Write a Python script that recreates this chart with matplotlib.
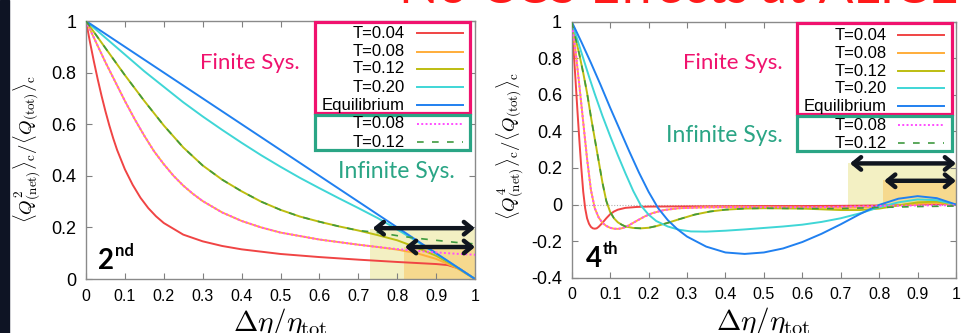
import matplotlib
matplotlib.use("Agg")
import matplotlib.pyplot as plt
from matplotlib.patches import Rectangle
from matplotlib.ticker import FormatStrFormatter

plt.rcParams['font.family'] = ['Liberation Sans', 'DejaVu Sans']
plt.rcParams['mathtext.fontset'] = 'cm'

# ---------------- data: 2nd order (left panel) ----------------
l_eq_x = [0, 1.0]
l_eq_y = [1, 0]

l_t04_x = [0, 0.01, 0.02, 0.03, 0.04, 0.05, 0.06, 0.07, 0.08, 0.1, 0.12, 0.14, 0.16, 0.18,
           0.2, 0.25, 0.3, 0.35, 0.4, 0.5, 0.6, 0.7, 0.8, 0.85, 0.9, 0.93, 0.96, 0.98, 1.0]
l_t04_y = [1, 0.92, 0.845, 0.775, 0.71, 0.65, 0.595, 0.545, 0.5, 0.425, 0.365, 0.315, 0.275,
           0.243, 0.217, 0.172, 0.146, 0.128, 0.115, 0.097, 0.085, 0.075, 0.066, 0.062, 0.058,
           0.054, 0.04, 0.02, 0]

l_t08_x = [0, 0.025, 0.05, 0.075, 0.1, 0.125, 0.15, 0.175, 0.2, 0.225, 0.25, 0.275, 0.3,
           0.35, 0.4, 0.45, 0.5, 0.6, 0.7, 0.75, 0.8, 0.85, 0.9, 0.95, 1.0]
l_t08_y = [1, 0.92, 0.84, 0.765, 0.69, 0.62, 0.555, 0.495, 0.445, 0.4, 0.362, 0.33, 0.302,
           0.258, 0.225, 0.2, 0.18, 0.153, 0.133, 0.124, 0.114, 0.1, 0.078, 0.045, 0]

l_t12_x = [0, 0.05, 0.1, 0.15, 0.2, 0.25, 0.3, 0.35, 0.4, 0.45, 0.5, 0.55, 0.6, 0.65, 0.7,
           0.75, 0.8, 0.85, 0.9, 0.95, 1.0]
l_t12_y = [1, 0.895, 0.79, 0.69, 0.595, 0.51, 0.44, 0.385, 0.34, 0.3, 0.268, 0.242, 0.222, 0.204,
           0.188, 0.17, 0.15, 0.122, 0.09, 0.048, 0]

l_t20_x = [0, 0.05, 0.1, 0.15, 0.2, 0.25, 0.3, 0.35, 0.4, 0.45, 0.5, 0.55, 0.6, 0.65, 0.7,
           0.75, 0.8, 0.85, 0.9, 0.95, 1.0]
l_t20_y = [1, 0.935, 0.87, 0.805, 0.745, 0.685, 0.63, 0.578, 0.528, 0.48, 0.435, 0.392, 0.352,
           0.313, 0.275, 0.236, 0.192, 0.146, 0.098, 0.05, 0]

# infinite system: same as finite up to 0.7, then stays flat
l_inf08_x = l_t08_x[:19] + [0.75, 0.8, 0.85, 0.9, 0.95, 1.0]
l_inf08_y = l_t08_y[:19] + [0.124, 0.116, 0.109, 0.103, 0.098, 0.094]
l_inf12_x = l_t12_x[:15] + [0.75, 0.8, 0.85, 0.9, 0.95, 1.0]
l_inf12_y = l_t12_y[:15] + [0.18, 0.168, 0.158, 0.15, 0.142, 0.136]

# ---------------- data: 4th order (right panel) ----------------
r_t04_x = [0, 0.005, 0.01, 0.015, 0.02, 0.025, 0.03, 0.035, 0.04, 0.045, 0.05, 0.055, 0.06,
           0.065, 0.07, 0.08, 0.09, 0.1, 0.11, 0.12, 0.14, 0.17, 0.2, 0.3, 0.4, 0.5, 0.6, 0.7,
           0.8, 0.85, 0.9, 0.95, 1.0]
r_t04_y = [1, 0.84, 0.68, 0.51, 0.35, 0.2, 0.07, -0.02, -0.075, -0.105, -0.122, -0.13, -0.132,
           -0.13, -0.122, -0.1, -0.075, -0.053, -0.038, -0.028, -0.018, -0.013, -0.011, -0.01,
           -0.009, -0.008, -0.008, -0.007, -0.005, -0.003, 0.0, 0.003, 0]

r_t08_x = [0, 0.01, 0.02, 0.03, 0.04, 0.05, 0.06, 0.07, 0.08, 0.09, 0.1, 0.11, 0.12, 0.13,
           0.14, 0.15, 0.17, 0.19, 0.21, 0.24, 0.28, 0.35, 0.45, 0.55, 0.65, 0.7, 0.75, 0.8,
           0.85, 0.9, 0.95, 1.0]
r_t08_y = [1, 0.84, 0.65, 0.45, 0.25, 0.08, -0.02, -0.07, -0.1, -0.117, -0.127, -0.132, -0.133,
           -0.13, -0.123, -0.112, -0.088, -0.065, -0.047, -0.03, -0.02, -0.015, -0.014, -0.015,
           -0.017, -0.018, -0.017, -0.012, -0.004, 0.004, 0.008, 0]

r_t12_x = [0, 0.01, 0.02, 0.03, 0.04, 0.05, 0.06, 0.07, 0.08, 0.09, 0.1, 0.11, 0.12, 0.13,
           0.14, 0.16, 0.18, 0.2, 0.22, 0.25, 0.28, 0.32, 0.36, 0.4, 0.45, 0.5, 0.6, 0.7, 0.75,
           0.8, 0.85, 0.9, 0.95, 1.0]
r_t12_y = [1, 0.91, 0.82, 0.72, 0.61, 0.48, 0.36, 0.24, 0.12, 0.02, -0.04, -0.075, -0.097,
           -0.11, -0.12, -0.128, -0.13, -0.127, -0.118, -0.1, -0.08, -0.055, -0.038, -0.028,
           -0.022, -0.02, -0.022, -0.03, -0.03, -0.022, -0.005, 0.012, 0.016, 0]

r_t20_x = [0, 0.015, 0.03, 0.045, 0.06, 0.08, 0.1, 0.12, 0.14, 0.16, 0.18, 0.2, 0.22, 0.25,
           0.28, 0.31, 0.35, 0.4, 0.45, 0.5, 0.55, 0.6, 0.65, 0.7, 0.75, 0.8, 0.85, 0.9, 0.95, 1.0]
r_t20_y = [1, 0.9, 0.8, 0.7, 0.605, 0.485, 0.375, 0.27, 0.17, 0.075, -0.005, -0.055, -0.09,
           -0.12, -0.138, -0.147, -0.148, -0.143, -0.136, -0.128, -0.12, -0.11, -0.095, -0.075,
           -0.048, -0.015, 0.012, 0.028, 0.024, 0]

r_eq_x = [0, 0.025, 0.05, 0.075, 0.1, 0.125, 0.15, 0.175, 0.2, 0.225, 0.25, 0.275, 0.3, 0.35,
          0.4, 0.45, 0.5, 0.55, 0.6, 0.65, 0.7, 0.75, 0.8, 0.85, 0.9, 0.95, 1.0]
r_eq_y = [1, 0.89, 0.775, 0.655, 0.53, 0.41, 0.29, 0.175, 0.07, -0.02, -0.085, -0.135, -0.175,
          -0.23, -0.262, -0.27, -0.262, -0.24, -0.205, -0.16, -0.108, -0.052, -0.002, 0.032,
          0.046, 0.035, 0]

r_inf08_x = r_t08_x[:24] + [0.65, 0.7, 0.8, 0.9, 1.0]
r_inf08_y = r_t08_y[:24] + [-0.014, -0.012, -0.008, -0.005, -0.004]
r_inf12_x = r_t12_x[:27] + [0.7, 0.8, 0.9, 1.0]
r_inf12_y = r_t12_y[:27] + [-0.022, -0.016, -0.011, -0.008]

finite_labels = ["T=0.04", "T=0.08", "T=0.12", "T=0.20", "Equilibrium"]
infinite_labels = ["T=0.08", "T=0.12"]

# ---------------- styles ----------------
finite_styles = [
    dict(color="#f04444", lw=1.4),
    dict(color="#ffad3a", lw=1.4),
    dict(color="#bdbd10", lw=1.4),
    dict(color="#3fd6d6", lw=1.4),
    dict(color="#2080f0", lw=1.4),
]
infinite_styles = [
    dict(color="#ff4dff", lw=1.4, ls=(0, (1, 1.2))),
    dict(color="#3f9a3f", lw=1.2, ls=(0, (4, 5))),
]
PINK = "#f0126e"
TEAL = "#2aa585"
ARROW = "#10151f"

fig = plt.figure(figsize=(9.67, 3.33), dpi=100)
fig.patches.append(Rectangle((0, 0), 9 / 967, 1, transform=fig.transFigure,
                             color="#0e1424", zorder=0))
# slide title, only its lower part shows above the plots
fig.text(0.413, 0.99, "No CCS Effects at ALICE ?", color="#ff1a1a", fontsize=37,
         family="Lato", va="baseline", ha="left")

ax1 = fig.add_axes([86 / 967, 54 / 333, 389 / 967, 258 / 333])
ax2 = fig.add_axes([571.7 / 967, 55.3 / 333, 384.3 / 967, 256 / 333])


def style_axes(ax, ylo, yhi):
    ax.set_xlim(0, 1)
    ax.set_ylim(ylo, yhi)
    ax.set_xticks([i / 10 for i in range(11)])
    ax.set_yticks([ylo + 0.2 * i for i in range(int(round((yhi - ylo) / 0.2)) + 1)])
    ax.xaxis.set_major_formatter(FormatStrFormatter('%g'))
    ax.yaxis.set_major_formatter(FormatStrFormatter('%g'))
    ax.tick_params(direction="in", top=True, right=True, length=4, width=0.8,
                   color="#808080")
    ax.tick_params(axis="x", labelsize=11.5, pad=7)
    ax.tick_params(axis="y", labelsize=13, pad=7)
    for s in ax.spines.values():
        s.set_color("#8a8a8a")
        s.set_linewidth(1.0)


def draw_key(ax, box1, box2, rows_y, text_x, line_x):
    ax.add_patch(Rectangle((box1[0], box1[1]), box1[2], box1[3], transform=ax.transAxes,
                           facecolor="white", edgecolor=PINK, lw=2.3, clip_on=False, zorder=5))
    ax.add_patch(Rectangle((box2[0], box2[1]), box2[2], box2[3], transform=ax.transAxes,
                           facecolor="white", edgecolor=TEAL, lw=2.3, clip_on=False, zorder=5))
    labels = finite_labels + infinite_labels
    styles = finite_styles + infinite_styles
    for lab, st, fy in zip(labels, styles, rows_y):
        ax.text(text_x, fy, lab, transform=ax.transAxes, ha="right", va="center",
                fontsize=12, zorder=6)
        ax.plot(line_x, [fy, fy], transform=ax.transAxes, clip_on=False, zorder=6, **st)


def arrow(ax, x0, x1, y):
    ax.annotate("", xy=(x1, y), xytext=(x0, y),
                arrowprops=dict(arrowstyle="<->,head_length=0.55,head_width=0.45",
                                lw=3.2, color=ARROW, shrinkA=0, shrinkB=0), zorder=7)


# ---------------- left panel ----------------
ax = ax1
style_axes(ax, 0, 1)
ax.add_patch(Rectangle((0.73, 0), 0.27, 0.195, facecolor="#f3f0c3", edgecolor="none", zorder=0.5))
ax.add_patch(Rectangle((0.817, 0), 0.183, 0.124, facecolor="#f6d98e", edgecolor="none", zorder=0.6))
left_finite = [(l_t04_x, l_t04_y), (l_t08_x, l_t08_y), (l_t12_x, l_t12_y),
               (l_t20_x, l_t20_y), (l_eq_x, l_eq_y)]
for (xs, ys), st in zip(left_finite, finite_styles):
    ax.plot(xs, ys, zorder=2, **st)
for (xs, ys), st in zip([(l_inf08_x, l_inf08_y), (l_inf12_x, l_inf12_y)], infinite_styles):
    ax.plot(xs, ys, zorder=3, **st)
arrow(ax, 0.737, 1.0, 0.197)
arrow(ax, 0.82, 1.0, 0.124)
draw_key(ax, (0.589, 0.643, 0.398, 0.353), (0.589, 0.5, 0.398, 0.136),
         [0.953, 0.880, 0.814, 0.744, 0.674, 0.601, 0.531], 0.82, [0.851, 0.969])
ax.text(0.42, 0.837, "Finite Sys.", color=PINK, fontsize=16, family="Lato",
        ha="center", va="center")
ax.text(0.797, 0.415, "Infinite Sys.", color=TEAL, fontsize=16.5, family="Lato",
        ha="center", va="center")
ax.text(0.031, 0.04, "2", fontsize=20, fontweight="bold", family="Lato", ha="left",
        va="baseline")
ax.annotate("nd", xy=(0.031, 0.04), xytext=(12, 9), textcoords="offset points",
            fontsize=12, fontweight="bold", family="Lato", ha="left", va="baseline")
ax.set_ylabel(r"$\langle Q^2_{\rm (net)}\rangle_{\rm c}/\langle Q_{\rm (tot)}\rangle_{\rm c}$",
              fontsize=13.5)
ax.yaxis.set_label_coords(-0.113, 0.504)
ax.text(0.5, -0.105, r"$\Delta\eta/\eta_{\rm tot}$", transform=ax.transAxes, fontsize=21,
        ha="center", va="top")

# ---------------- right panel ----------------
ax = ax2
style_axes(ax, -0.4, 1)
ax.axhline(0, color="#b0b0b0", lw=0.8, ls=(0, (1, 1.5)), zorder=1)
ax.add_patch(Rectangle((0.72, 0), 0.28, 0.225, facecolor="#f3f0c3", edgecolor="none", zorder=0.5))
ax.add_patch(Rectangle((0.81, 0), 0.19, 0.132, facecolor="#f6d98e", edgecolor="none", zorder=0.6))
right_finite = [(r_t04_x, r_t04_y), (r_t08_x, r_t08_y), (r_t12_x, r_t12_y),
                (r_t20_x, r_t20_y), (r_eq_x, r_eq_y)]
for (xs, ys), st in zip(right_finite, finite_styles):
    ax.plot(xs, ys, zorder=2, **st)
for (xs, ys), st in zip([(r_inf08_x, r_inf08_y), (r_inf12_x, r_inf12_y)], infinite_styles):
    ax.plot(xs, ys, zorder=3, **st)
arrow(ax, 0.724, 1.0, 0.225)
arrow(ax, 0.813, 1.0, 0.13)
draw_key(ax, (0.586, 0.639, 0.404, 0.356), (0.586, 0.495, 0.404, 0.137),
         [0.948, 0.877, 0.807, 0.740, 0.670, 0.596, 0.526], 0.82, [0.85, 0.97])
ax.text(0.42, 0.774, "Finite Sys.", color=PINK, fontsize=16, family="Lato",
        ha="center", va="center")
ax.text(0.397, 0.38, "Infinite Sys.", color=TEAL, fontsize=16.5, family="Lato",
        ha="center", va="center")
ax.text(0.037, -0.341, "4", fontsize=20, fontweight="bold", family="Lato", ha="left",
        va="baseline")
ax.annotate("th", xy=(0.037, -0.341), xytext=(12, 9), textcoords="offset points",
            fontsize=12, fontweight="bold", family="Lato", ha="left", va="baseline")
ax.set_ylabel(r"$\langle Q^4_{\rm (net)}\rangle_{\rm c}/\langle Q_{\rm (tot)}\rangle_{\rm c}$",
              fontsize=13.5)
ax.yaxis.set_label_coords(-0.1215, 0.514)
ax.text(0.5, -0.105, r"$\Delta\eta/\eta_{\rm tot}$", transform=ax.transAxes, fontsize=21,
        ha="center", va="top")

fig.savefig("out.png", dpi=100)
